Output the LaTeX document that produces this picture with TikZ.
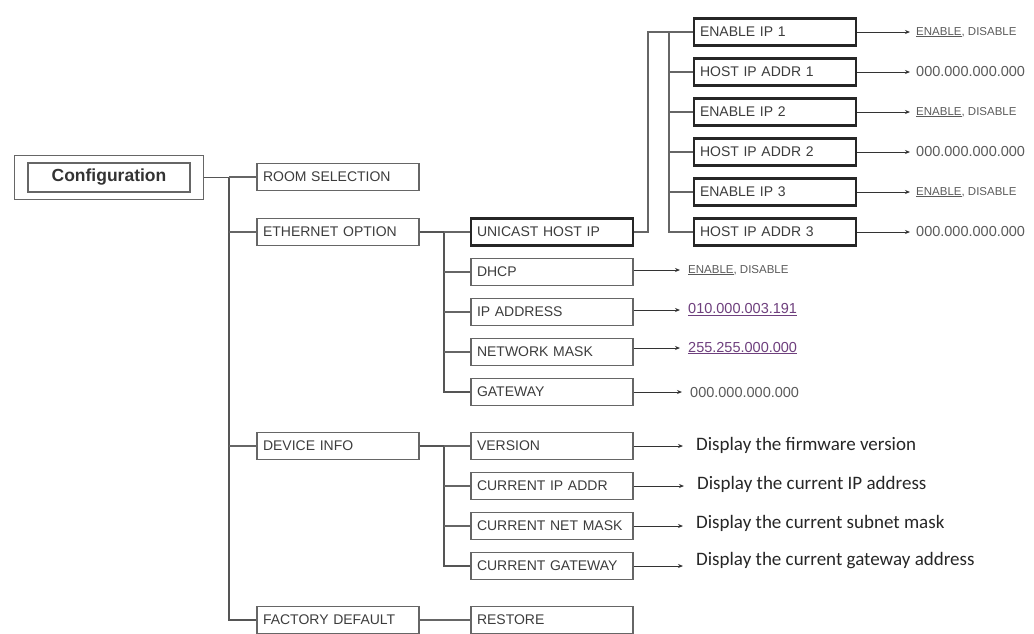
\documentclass[tikz,border=0pt]{standalone}
\usepackage{fontspec}
\setmainfont{Liberation Sans}
\newfontfamily\dispfont{Carlito}
\usetikzlibrary{arrows.meta,fit}
\definecolor{linegray}{HTML}{555555}
\definecolor{framegray}{HTML}{666666}
\definecolor{labelgray}{HTML}{3C3C3C}
\definecolor{valgray}{HTML}{5A5A5A}
\definecolor{linkpurple}{HTML}{6E3F7D}

\tikzset{
  item/.style={draw=framegray, line width=1.1pt, text=labelgray, minimum height=27pt,
    text width=150pt, inner xsep=6pt, align=left, font=\fontsize{14}{16}\selectfont},
  thickbox/.style={draw=black!85, line width=2.6pt},
  hdr/.style={draw=framegray, line width=1.1pt, minimum width=162pt, minimum height=29pt,
    text=black!80, font=\fontsize{17.5}{20}\selectfont\bfseries},
  trunk/.style={draw=linegray, line width=1.8pt},
  branch/.style={draw=framegray, line width=1.2pt},
  val/.style={anchor=west, inner sep=0pt, text=valgray, font=\fontsize{14.5}{16}\selectfont},
  sel/.style={anchor=west, inner sep=0pt, text=valgray, font=\fontsize{11.5}{13}\selectfont},
  disp/.style={anchor=west, inner sep=0pt, text=black!85, font=\dispfont\fontsize{19}{22}\selectfont},
  pointer/.style={draw=black!80, line width=0.9pt, -{Stealth[length=5pt,width=4pt]}}
}

\newcommand{\onoff}{\underline{ENABLE},\ DISABLE}

\begin{document}
\begin{tikzpicture}[x=1pt,y=-1pt]
    \useasboundingbox (0,0) rectangle (1034,633);
    % root
    \node[hdr] (cfg) at (109,177.5) {Configuration};
    \node[draw=framegray, line width=1.3pt, inner xsep=13pt, inner ysep=7pt, fit=(cfg)] (cfgbox) {};
    % first level
    \node[item] (room) at (338,177) {ROOM SELECTION};
    \node[item] (eth) at (338,232) {ETHERNET OPTION};
    \node[item] (dev) at (338,446) {DEVICE INFO};
    \node[item] (fact) at (338,620) {FACTORY DEFAULT};
    % second level
    \node[item,thickbox] (uni) at (552,232) {UNICAST HOST IP};
    \node[item] (dhcp) at (552,272) {DHCP};
    \node[item] (ipaddr) at (552,312) {IP ADDRESS};
    \node[item] (mask) at (552,352) {NETWORK MASK};
    \node[item] (gw) at (552,392) {GATEWAY};
    \node[item] (ver) at (552,446) {VERSION};
    \node[item] (cip) at (552,486) {CURRENT IP ADDR};
    \node[item] (cmask) at (552,526) {CURRENT NET MASK};
    \node[item] (cgw) at (552,566) {CURRENT GATEWAY};
    \node[item] (restore) at (552,620) {RESTORE};
    % unicast hosts
    \node[item,thickbox] (en1) at (775,32) {ENABLE IP 1};
    \node[item,thickbox] (host1) at (775,72) {HOST IP ADDR 1};
    \node[item,thickbox] (en2) at (775,112) {ENABLE IP 2};
    \node[item,thickbox] (host2) at (775,152) {HOST IP ADDR 2};
    \node[item,thickbox] (en3) at (775,192) {ENABLE IP 3};
    \node[item,thickbox] (host3) at (775,232) {HOST IP ADDR 3};
    % values
    \node[sel] (ven1) at (916,32) {\onoff};
    \node[val] (vhost1) at (916,72) {000.000.000.000};
    \node[sel] (ven2) at (916,112) {\onoff};
    \node[val] (vhost2) at (916,152) {000.000.000.000};
    \node[sel] (ven3) at (916,192) {\onoff};
    \node[val] (vhost3) at (916,232) {000.000.000.000};
    \node[sel] (vdhcp) at (688,270) {\onoff};
    \node[val,text=linkpurple] (vip) at (688,310) {\underline{010.000.003.191}};
    \node[val,text=linkpurple] (vmask) at (688,348) {\underline{255.255.000.000}};
    \node[val] (vgw) at (690,392) {000.000.000.000};
    \node[disp] (dver) at (696,445) {Display the firmware version};
    \node[disp] (dcip) at (697,484) {Display the current IP address};
    \node[disp] (dcmask) at (696,523) {Display the current subnet mask};
    \node[disp] (dcgw) at (696,561) {Display the current gateway address};

    % main trunk
    \coordinate (t0) at (229,177.5);
    \draw[trunk] (cfgbox.east) -- (t0) |- (fact.west);
    \foreach \n in {room,eth,dev}
        \draw[branch] (t0 |- \n.west) -- (\n.west);
    % ethernet
    \coordinate (e0) at (444,232);
    \draw[trunk] (eth.east) -- (e0) |- (gw.west);
    \draw[branch] (e0) -- (uni.west);
    \foreach \n in {dhcp,ipaddr,mask}
        \draw[branch] (e0 |- \n.west) -- (\n.west);
    % device info
    \coordinate (d0) at (444,446);
    \draw[trunk] (dev.east) -- (d0) |- (cgw.west);
    \draw[branch] (d0) -- (ver.west);
    \foreach \n in {cip,cmask}
        \draw[branch] (d0 |- \n.west) -- (\n.west);
    \draw[branch] (fact.east) -- (restore.west);
    % unicast
    \coordinate (u0) at (648,232);
    \coordinate (u1) at (669,32);
    \draw[branch] (uni.east) -- (u0) |- (en1.west);
    \draw[branch] (u1) |- (host3.west);
    \foreach \n in {host1,en2,host2,en3}
        \draw[branch] (u1 |- \n.west) -- (\n.west);

    % pointers
    \foreach \a/\b in {en1/ven1,host1/vhost1,en2/ven2,host2/vhost2,en3/ven3,host3/vhost3}
        \draw[pointer,shorten >=6pt] (\a.east) -- (\a.east -| \b.west);
    \foreach \a/\b in {dhcp/vdhcp,ipaddr/vip,mask/vmask,gw/vgw}
        \draw[pointer,shorten >=8pt] (\a.east |- \b.west) -- (\b.west);
    \foreach \a/\b in {ver/dver,cip/dcip,cmask/dcmask,cgw/dcgw}
        \draw[pointer,shorten >=13pt] (\a.east) -- (\a.east -| \b.west);
\end{tikzpicture}
\end{document}
